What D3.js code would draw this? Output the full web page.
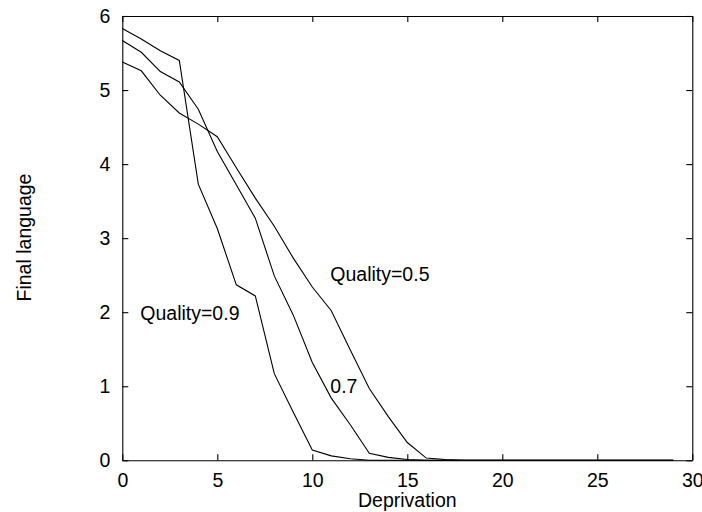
<!DOCTYPE html>
<html>
<head>
<meta charset="utf-8">
<script src="https://cdn.jsdelivr.net/npm/d3@7"></script>
<style>
  body { margin: 0; background: #fff; }
  svg { font-family: "Liberation Sans", Arial, sans-serif; }
  .axis text { font-size: 19.5px; fill: #000; font-family: "Liberation Sans", Arial, sans-serif; }
  .axis path, .axis line { stroke: #000; stroke-width: 1.1; }
</style>
</head>
<body>
<div class="chart"></div>
<script>
//Width and height
var w = 702;
var h = 512;
var margin = { top: 16, right: 9.7, bottom: 51.7, left: 122.3 };

//Data
var deprivation = d3.range(0, 30);
var quality09 = [5.83, 5.69, 5.53, 5.40, 3.73, 3.13, 2.37, 2.22, 1.17, 0.65, 0.14, 0.06, 0.02, 0, 0,
                 0, 0, 0, 0, 0, 0, 0, 0, 0, 0, 0, 0, 0, 0, 0];
var quality07 = [5.67, 5.51, 5.25, 5.11, 4.74, 4.17, 3.72, 3.27, 2.49, 1.96, 1.32, 0.84, 0.48, 0.095, 0.04,
                 0.01, 0, 0, 0, 0, 0, 0, 0, 0, 0, 0, 0, 0, 0, 0];
var quality05 = [5.38, 5.26, 4.93, 4.69, 4.54, 4.37, 3.95, 3.54, 3.16, 2.73, 2.34, 2.02, 1.49, 0.97, 0.59,
                 0.24, 0.03, 0.01, 0, 0, 0, 0, 0, 0, 0, 0, 0, 0, 0, 0];
var xTicks = [0, 5, 10, 15, 20, 25, 30];
var yTicks = [0, 1, 2, 3, 4, 5, 6];

//Curve labels: text, x value, y value (baseline)
var labelText = ["Quality=0.5", "0.7", "Quality=0.9"];
var labelX = [11.0, 11.0, 1.0];
var labelY = [2.42, 0.905, 1.895];

var svg = d3.select(".chart")
    .append("svg")
    .attr("width", w)
    .attr("height", h);

var xScale = d3.scaleLinear()
    .domain([0, 30])
    .range([margin.left, w - margin.right]);

var yScale = d3.scaleLinear()
    .domain([0, 6])
    .range([h - margin.bottom, margin.top]);

//Axes (ticks pointing inward on all four sides)
svg.append("g")
    .attr("class", "axis")
    .attr("transform", "translate(0," + yScale(0) + ")")
    .call(d3.axisBottom(xScale).tickValues(xTicks).tickFormat(d3.format("d"))
        .tickSizeInner(-6).tickSizeOuter(0).tickPadding(13));

svg.append("g")
    .attr("class", "axis")
    .attr("transform", "translate(0," + yScale(6) + ")")
    .call(d3.axisTop(xScale).tickValues(xTicks).tickSizeInner(-6).tickSizeOuter(0).tickFormat(""));

svg.append("g")
    .attr("class", "axis")
    .attr("transform", "translate(" + xScale(0) + ",0)")
    .call(d3.axisLeft(yScale).tickValues(yTicks).tickFormat(d3.format("d"))
        .tickSizeInner(-6).tickSizeOuter(0).tickPadding(12));

svg.append("g")
    .attr("class", "axis")
    .attr("transform", "translate(" + xScale(30) + ",0)")
    .call(d3.axisRight(yScale).tickValues(yTicks).tickSizeInner(-6).tickSizeOuter(0).tickFormat(""));

//Lines
var line = d3.line()
    .x((d, i) => xScale(deprivation[i]))
    .y(d => yScale(d));

[quality09, quality07, quality05].forEach(series => {
    svg.append("path")
        .datum(series)
        .attr("fill", "none")
        .attr("stroke", "#000")
        .attr("stroke-width", 1.1)
        .attr("d", line);
});

//Curve labels
labelText.forEach((t, i) => {
    svg.append("text")
        .attr("x", xScale(labelX[i]) - 1)
        .attr("y", yScale(labelY[i]))
        .attr("font-size", "19.5px")
        .attr("fill", "#000")
        .text(t);
});

//Axis titles
svg.append("text")
    .attr("x", xScale(15))
    .attr("y", 507)
    .attr("text-anchor", "middle")
    .attr("font-size", "19.5px")
    .text("Deprivation");

svg.append("text")
    .attr("transform", "rotate(-90 31 237.5)")
    .attr("x", 31)
    .attr("y", 237.5)
    .attr("text-anchor", "middle")
    .attr("font-size", "19.5px")
    .text("Final language");
</script>
</body>
</html>
